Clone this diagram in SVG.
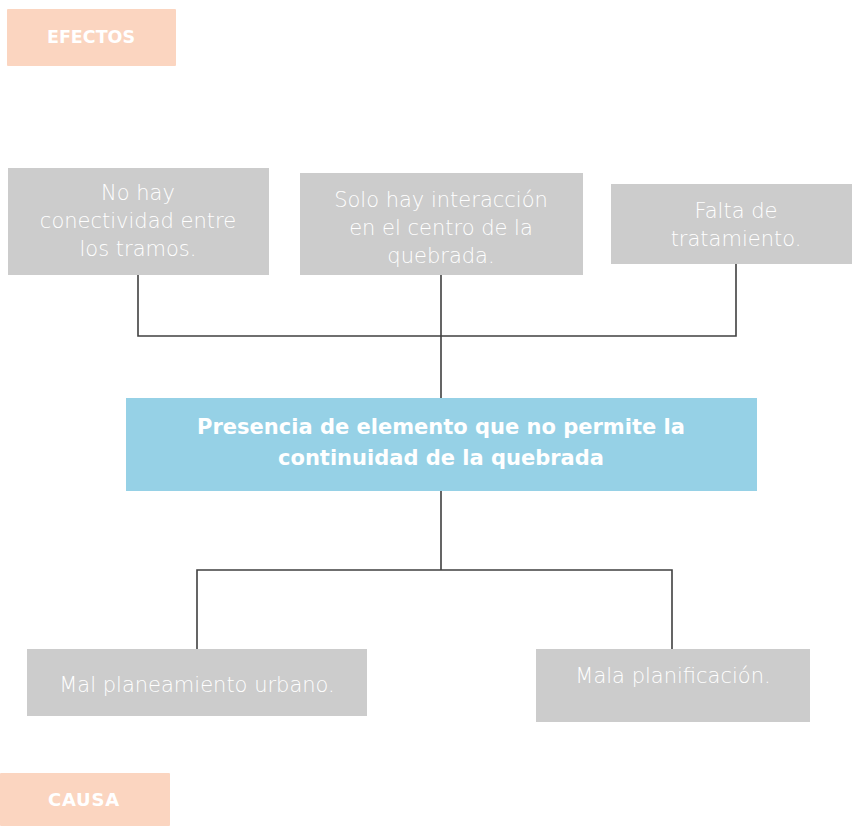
<svg xmlns="http://www.w3.org/2000/svg" width="852" height="826" viewBox="0 0 852 826">
<style>
.tag{fill:#FBD5C0}
.box{fill:#CCCCCC}
.main{fill:#96D1E6}
.t{font-family:"DejaVu Sans","Liberation Sans",sans-serif;font-weight:200;font-size:21px;fill:#FFFFFF;text-anchor:middle}
.b{font-family:"DejaVu Sans","Liberation Sans",sans-serif;font-weight:bold;fill:#FFFFFF;text-anchor:middle}
.ln{stroke:#404040;stroke-width:1.6;fill:none}
</style>
<rect width="852" height="826" fill="#FFFFFF"/>
<g id="efectos"><rect class="tag" x="7" y="9" width="169" height="57" rx="1"/><text class="b" x="91" y="43" font-size="17.5">EFECTOS</text></g>
<g id="causa"><rect class="tag" x="0" y="773" width="170" height="53" rx="1"/><text class="b" x="84" y="806" font-size="18" letter-spacing="0.8">CAUSA</text></g>
<g id="connectors">
<path class="ln" d="M138 275V336H736V264M441 275V398"/>
<path class="ln" d="M441 491V570M197 649V570H672V649"/>
</g>
<g id="e1"><rect class="box" x="8" y="168" width="261" height="107"/>
<text class="t" x="138" y="200">No hay</text><text class="t" x="138" y="228">conectividad entre</text><text class="t" x="138" y="256">los tramos.</text></g>
<g id="e2"><rect class="box" x="300" y="173" width="283" height="102"/>
<text class="t" x="441" y="207">Solo hay interacción</text><text class="t" x="441" y="235">en el centro de la</text><text class="t" x="441" y="263">quebrada.</text></g>
<g id="e3"><rect class="box" x="611" y="184" width="241" height="80"/>
<text class="t" x="736" y="218">Falta de</text><text class="t" x="736" y="246">tratamiento.</text></g>
<g id="problema"><rect class="main" x="126" y="398" width="631" height="93"/>
<text class="b" x="441" y="434" font-size="21">Presencia de elemento que no permite la</text><text class="b" x="441" y="465" font-size="21">continuidad de la quebrada</text></g>
<g id="c1"><rect class="box" x="27" y="649" width="340" height="67"/>
<text class="t" x="197" y="692">Mal planeamiento urbano.</text></g>
<g id="c2"><rect class="box" x="536" y="649" width="274" height="73"/>
<text class="t" x="673" y="683">Mala planificación.</text></g>
</svg>
